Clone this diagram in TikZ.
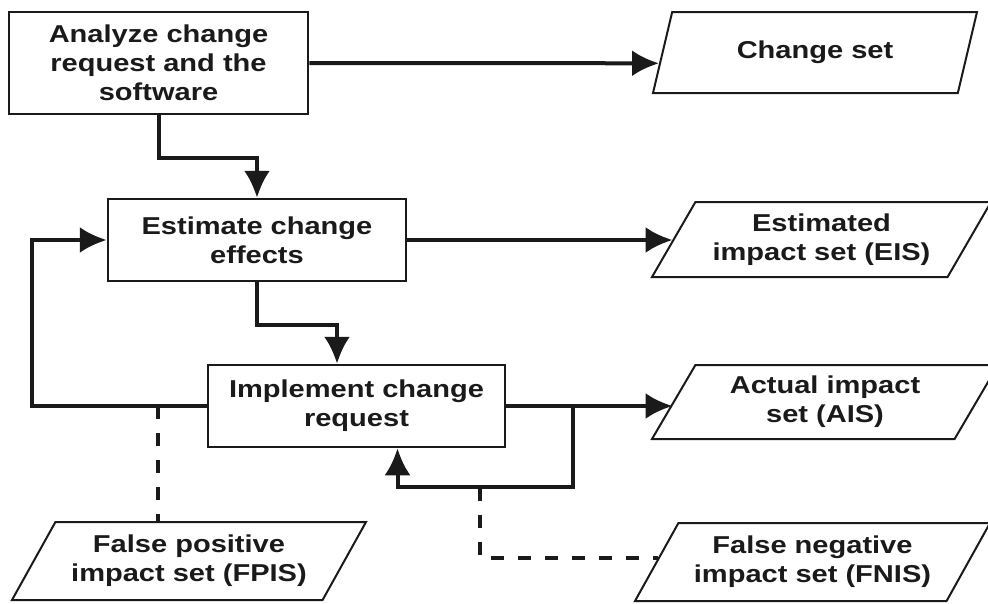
\documentclass[tikz,border=0pt]{standalone}
\usepackage{fontspec}
\setmainfont{Liberation Sans}[FakeStretch=1.19]
\usetikzlibrary{arrows.meta,calc,shapes.geometric}
\definecolor{ink}{HTML}{1A1A1A}

\begin{document}
\begin{tikzpicture}[x=1pt,y=-1pt,
  font=\bfseries\fontsize{24.4}{29}\selectfont,text=ink,
  >={Latex[length=27pt,width=26pt]},
  stage/.style={draw=ink,line width=2.5pt,align=center,inner sep=0pt},
  dataset/.style={draw=ink,line width=2pt,align=center,trapezium,
    trapezium left angle=50,trapezium right angle=130,
    trapezium stretches body,inner sep=0pt},
  flow/.style={->,ink,line width=4pt},
  miss/.style={ink,line width=4pt,dash pattern=on 13pt off 14pt}]
  \useasboundingbox (0,0) rectangle (988,603);

  \node[stage,minimum width=299pt,minimum height=102pt] (analyze)
    at (158.5,63) {Analyze change\\request and the\\software};
  \node[stage,minimum width=298pt,minimum height=82pt] (estimate)
    at (257,240) {Estimate change\\effects};
  \node[stage,minimum width=297pt,minimum height=82pt] (implement)
    at (356.5,406) {Implement change\\request};

  \node[dataset,minimum width=324pt,minimum height=81pt] (cset)
    at (815,52.5) {Change set};
  \node[dataset,minimum width=339pt,minimum height=75pt] (eis)
    at (821.5,239.5) {Estimated\\impact set (EIS)};
  \node[dataset,minimum width=346pt,minimum height=74pt] (ais)
    at (825,402) {Actual impact\\set (AIS)};
  \node[dataset,minimum width=354pt,minimum height=78pt] (fpis)
    at (189,561) {False positive\\impact set (FPIS)};
  \node[dataset,minimum width=355pt,minimum height=78pt] (fnis)
    at (812.5,562) {False negative\\impact set (FNIS)};

  \draw[flow] (analyze.east) --
    ($(cset.bottom left corner)!0.37!(cset.top left corner)$);
  \draw[flow] (analyze.south) -- ++(0,43) -| (estimate.north);
  \draw[flow] (estimate.east) -- (estimate.east -| eis.west);
  \draw[flow] (estimate.south) -- ++(0,43)
    -| ($(implement.north)+(-19.5,0)$);
  \draw[flow] (implement.east) -- (implement.east -| ais.west);
  \draw[flow] (implement.west) -- ++(-175,0) |- (estimate.west);

  \coordinate (split) at ($(implement.east)+(67,0)$);
  \draw[flow] (split) -- ++(0,81) -| ($(implement.south)+(41,0)$);

  \coordinate (fpbranch) at ($(implement.west)+(-49,0)$);
  \draw[miss] (fpbranch) -- (fpbranch |- fpis.north);
  \coordinate (fnbranch) at ($(implement.south)+(123.5,40)$);
  \draw[miss] (fnbranch) |-
    ($(fnis.bottom left corner)!0.55!(fnis.top left corner)$);
\end{tikzpicture}
\end{document}
